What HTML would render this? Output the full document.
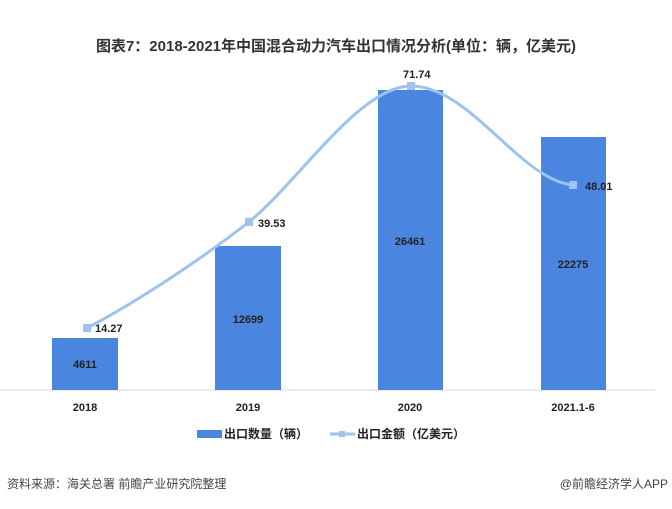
<!DOCTYPE html>
<html><head><meta charset="utf-8"><style>
body{margin:0;width:672px;height:504px;background:#fff;overflow:hidden}
svg text{font-family:"Liberation Sans","Noto Sans CJK SC",sans-serif}
</style></head><body>
<svg width="672" height="504" viewBox="0 0 672 504">
<text x="336" y="51" text-anchor="middle" font-size="15" font-weight="bold" fill="#333">图表7：2018-2021年中国混合动力汽车出口情况分析(单位：辆，亿美元)</text>
<line x1="0" y1="390" x2="655" y2="390" stroke="#d9d9d9" stroke-width="1"/>
<g fill="#4a86e0">
<rect x="52" y="338" width="66" height="52"/>
<rect x="215" y="246" width="66" height="144"/>
<rect x="378" y="90" width="65" height="300"/>
<rect x="541" y="137" width="65" height="253"/>
</g>
<g font-size="11" font-weight="bold" fill="#222" text-anchor="middle">
<text x="85" y="368">4611</text>
<text x="248" y="323">12699</text>
<text x="410" y="245">26461</text>
<text x="573" y="268">22275</text>
</g>
<path d="M87,328 C140,300 200,260 249,222 C300,180 360,86 411,86 C470,86 520,180 573,185" fill="none" stroke="#9dc3ee" stroke-width="3"/>
<g fill="#9dc3ee">
<rect x="83" y="324" width="8" height="8"/><rect x="245" y="218" width="8" height="8"/>
<rect x="407" y="82" width="8" height="8"/><rect x="569" y="181" width="8" height="8"/>
</g>
<g font-size="11" font-weight="bold" fill="#222">
<text x="95" y="332">14.27</text>
<text x="258" y="227">39.53</text>
<text x="403" y="78">71.74</text>
<text x="585" y="190">48.01</text>
</g>
<g font-size="11" font-weight="bold" fill="#222" text-anchor="middle">
<text x="85" y="411">2018</text><text x="248" y="411">2019</text>
<text x="410" y="411">2020</text><text x="573" y="411">2021.1-6</text>
</g>
<rect x="197" y="430" width="25" height="8" fill="#4a86e0"/>
<text x="224" y="438" font-size="12" font-weight="bold" fill="#222">出口数量（辆）</text>
<line x1="330" y1="434" x2="355" y2="434" stroke="#9dc3ee" stroke-width="3"/>
<rect x="339" y="431" width="6" height="6" fill="#9dc3ee"/>
<text x="357" y="438" font-size="12" font-weight="bold" fill="#222">出口金额（亿美元）</text>
<text x="7" y="488" font-size="12" fill="#444">资料来源：海关总署 前瞻产业研究院整理</text>
<text x="668" y="488" font-size="12" fill="#444" text-anchor="end">@前瞻经济学人APP</text>
</svg>
</body></html>
